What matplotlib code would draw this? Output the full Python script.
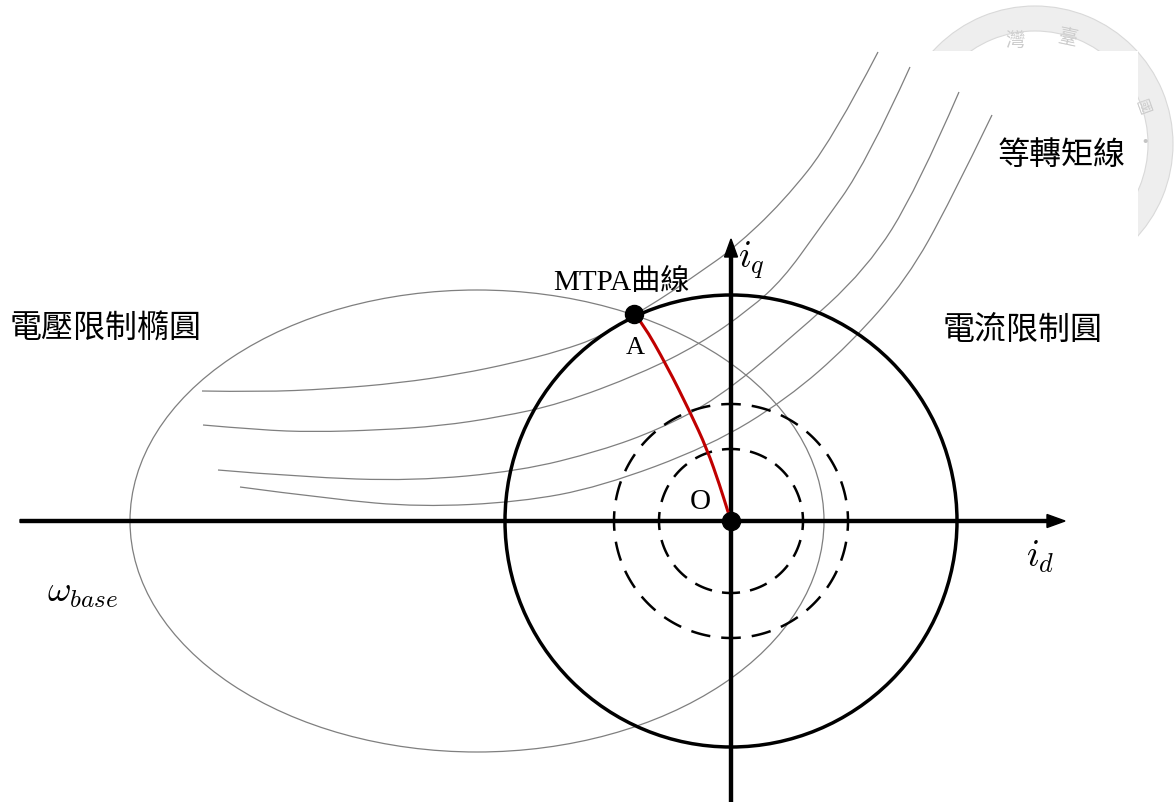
import numpy as np
import matplotlib.pyplot as plt
from matplotlib.path import Path
from matplotlib.patches import Ellipse, Circle, Rectangle, FancyArrow, Wedge, PathPatch

# -----------------------------
# Diagram values (1 unit = 100 px, origin at O)
# -----------------------------
i_max = 2.26                      # current limit circle radius
dash_radii = [0.72, 1.17]         # dashed circles
dash_counts = [16, 24]
volt_center = (-2.54, 0.0)        # voltage limit ellipse
volt_width, volt_height = 6.94, 4.62

# constant torque curves (id, iq)
t1_id = [-5.29, -4.71, -4.01, -3.31, -2.71, -2.18, -1.71, -1.31, -0.97, -0.64, -0.31, 0.02, 0.52, 1.02, 1.47]
t1_iq = [1.30, 1.29, 1.32, 1.38, 1.47, 1.58, 1.70, 1.84, 2.06, 2.26, 2.49, 2.72, 3.19, 3.82, 4.69]
t2_id = [-5.28, -4.71, -4.18, -3.51, -2.91, -2.31, -1.71, -0.91, -0.31, 0.19, 0.52, 0.86, 1.36, 1.79]
t2_iq = [0.96, 0.91, 0.89, 0.91, 0.95, 1.04, 1.17, 1.47, 1.77, 2.12, 2.42, 2.89, 3.59, 4.54]
t3_id = [-5.13, -4.31, -3.18, -2.11, -1.31, -0.71, -0.14, 0.59, 1.36, 1.86, 2.28]
t3_iq = [0.51, 0.44, 0.40, 0.50, 0.70, 0.92, 1.22, 1.82, 2.52, 3.32, 4.29]
t4_id = [-4.91, -4.01, -3.11, -2.11, -1.31, -0.21, 0.56, 1.19, 1.76, 2.19, 2.61]
t4_iq = [0.34, 0.22, 0.14, 0.19, 0.34, 0.75, 1.22, 1.77, 2.42, 3.19, 4.06]
torque_curves = [(t1_id, t1_iq), (t2_id, t2_iq), (t3_id, t3_iq), (t4_id, t4_iq)]

# MTPA curve from O to A
mtpa_id = [0.0, -0.03, -0.11, -0.24, -0.41, -0.64, -0.89, -0.97]
mtpa_iq = [0.0, 0.09, 0.35, 0.72, 1.09, 1.55, 1.99, 2.07]
point_a = (-0.97, 2.07)

cjk = ['Noto Sans CJK TC', 'DejaVu Sans']
serif_cjk = ['Liberation Serif', 'Noto Sans CJK TC']
plt.rcParams['mathtext.fontset'] = 'cm'


def smooth_path(xs, ys):
    """Quadratic Bezier path using the read points as control points."""
    pts = list(zip(xs, ys))
    verts = [pts[0]]
    codes = [Path.MOVETO]
    for k in range(1, len(pts) - 1):
        mid = ((pts[k][0] + pts[k + 1][0]) / 2, (pts[k][1] + pts[k + 1][1]) / 2)
        if k == len(pts) - 2:
            mid = pts[-1]
        verts += [pts[k], mid]
        codes += [Path.CURVE3, Path.CURVE3]
    return Path(verts, codes)


fig = plt.figure(figsize=(11.75, 8.03), dpi=100)
ax = fig.add_axes([0, 0, 1, 1])
ax.set_xlim(-7.31, 4.44)
ax.set_ylim(-2.81, 5.22)
ax.axis('off')

# -----------------------------
# faint watermark seal (top right), mostly hidden by the diagram's white area
# -----------------------------
seal_c = (3.04, 3.77)
ax.add_patch(Wedge(seal_c, 1.38, 0, 360, width=0.25, facecolor='#eeeeee',
                   edgecolor='#d9d9d9', lw=0.8, zorder=0))
ax.text(2.84, 4.82, '灣', family=cjk, fontsize=14, color='#cccccc',
        ha='center', va='center', zorder=0)
ax.text(3.37, 4.84, '臺', family=cjk, fontsize=14, color='#cccccc',
        ha='center', va='center', rotation=-12, zorder=0)
ax.add_patch(Rectangle((1.49, -2.81), 2.58, 7.51, facecolor='white',
                       edgecolor='none', zorder=0.5))
ax.text(4.12, 4.15, '國', family=cjk, fontsize=11, color='#cccccc',
        ha='center', va='center', rotation=-70, zorder=0.6)
ax.text(4.14, 3.79, '·', family=cjk, fontsize=14, color='#c4c4c4',
        ha='center', va='center', zorder=0.6)

# -----------------------------
# axes with arrows
# -----------------------------
ax.add_patch(FancyArrow(-7.11, 0, 10.45, 0, width=0.03, head_width=0.13,
                        head_length=0.18, length_includes_head=True,
                        color='black', zorder=3))
ax.add_patch(FancyArrow(0, -2.85, 0, 5.67, width=0.03, head_width=0.13,
                        head_length=0.18, length_includes_head=True,
                        color='black', zorder=3))

# -----------------------------
# voltage limit ellipse and torque curves
# -----------------------------
ax.add_patch(Ellipse(volt_center, volt_width, volt_height, fill=False,
                     edgecolor='#7f7f7f', lw=0.9, zorder=2))
for c_id, c_iq in torque_curves:
    ax.add_patch(PathPatch(smooth_path(c_id, c_iq), fill=False,
                           edgecolor='#7f7f7f', lw=0.9, zorder=2))

# current limit circle
ax.add_patch(Circle((0, 0), i_max, fill=False, edgecolor='black', lw=2.5, zorder=3))

# dashed circles (a dash centred on every axis crossing)
for r, n in zip(dash_radii, dash_counts):
    period = 2 * np.pi / n
    half = period * 0.32
    for k in range(n):
        th = np.linspace(k * period - half, k * period + half, 15)
        ax.plot(r * np.cos(th), r * np.sin(th), color='black', lw=1.8,
                solid_capstyle='butt', zorder=3)

# MTPA curve
ax.add_patch(PathPatch(smooth_path(mtpa_id, mtpa_iq), fill=False,
                       edgecolor='#c00000', lw=2.2, zorder=4))
ax.plot(*point_a, 'o', color='black', ms=13, zorder=5)
ax.plot(0, 0, 'o', color='black', ms=13, zorder=5)

# -----------------------------
# labels
# -----------------------------
ax.text(-7.21, 1.94, '電壓限制橢圓', family=cjk, fontsize=23, va='center', ha='left')
ax.text(2.12, 1.92, '電流限制圓', family=cjk, fontsize=23, va='center', ha='left')
ax.text(2.67, 3.67, '等轉矩線', family=cjk, fontsize=23, va='center', ha='left')
ax.text(-1.78, 2.39, 'MTPA曲線', family=serif_cjk, fontsize=21, va='center', ha='left')
ax.text(-0.96, 1.74, 'A', family='Liberation Serif', fontsize=19, va='center', ha='center')
ax.text(-0.31, 0.20, 'O', family='Liberation Serif', fontsize=21, va='center', ha='center')
ax.text(0.07, 2.62, r'$i_q$', fontsize=27, va='center', ha='left')
ax.text(2.95, -0.35, r'$i_d$', fontsize=27, va='center', ha='left')
ax.text(-6.84, -0.71, r'$\omega_{base}$', fontsize=26, va='center', ha='left')

fig.savefig('out.png', dpi=100)
